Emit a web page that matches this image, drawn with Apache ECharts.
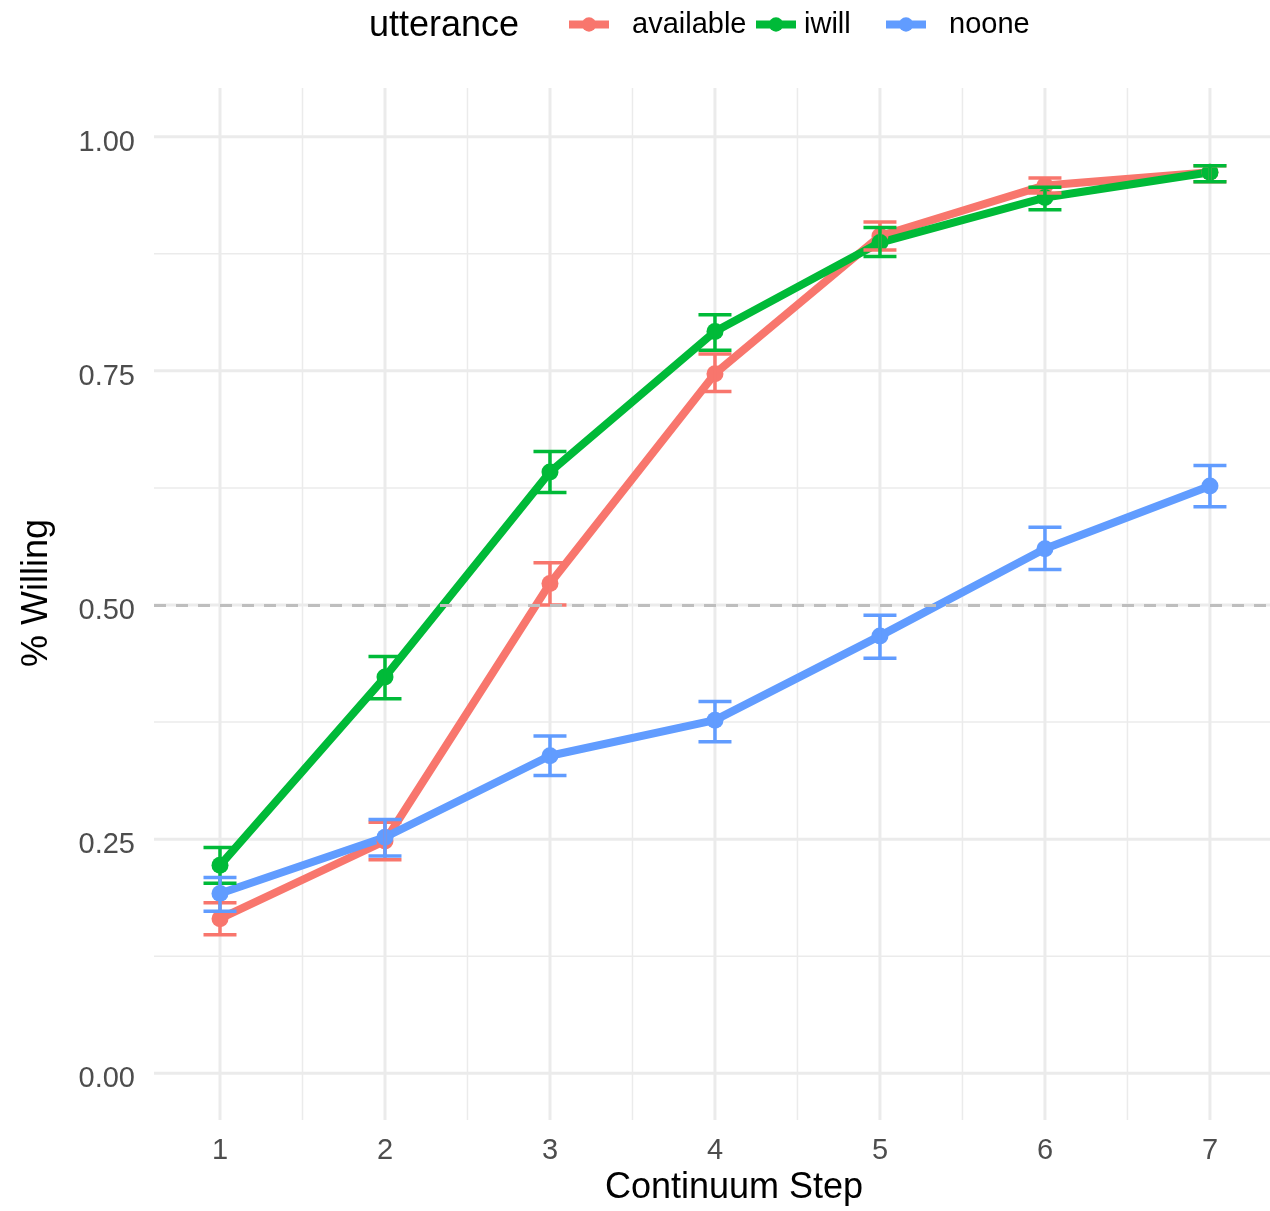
<!DOCTYPE html>
<html>
<head>
<meta charset="utf-8">
<script src="https://cdn.jsdelivr.net/npm/echarts@6/dist/echarts.min.js"></script>
<style>
html,body{margin:0;padding:0;background:#fff;overflow:hidden;}
#chart{width:1270px;height:1211px;}
</style>
</head>
<body>
<div id="chart"></div>
<script>
const steps = [1, 2, 3, 4, 5, 6, 7];
const available   = [0.165, 0.248, 0.523, 0.747, 0.894, 0.948, 0.962];
const availableLo = [0.148, 0.228, 0.500, 0.728, 0.879, 0.940, 0.952];
const availableHi = [0.182, 0.268, 0.545, 0.768, 0.909, 0.956, 0.969];
const iwill   = [0.222, 0.423, 0.642, 0.792, 0.887, 0.935, 0.962];
const iwillLo = [0.203, 0.400, 0.620, 0.772, 0.872, 0.922, 0.952];
const iwillHi = [0.241, 0.445, 0.664, 0.810, 0.903, 0.946, 0.969];
const noone   = [0.192, 0.252, 0.339, 0.377, 0.467, 0.560, 0.627];
const nooneLo = [0.173, 0.232, 0.318, 0.354, 0.443, 0.538, 0.605];
const nooneHi = [0.209, 0.271, 0.360, 0.397, 0.489, 0.583, 0.649];
const xTicks = [1, 2, 3, 4, 5, 6, 7];
const xMinor = [1.5, 2.5, 3.5, 4.5, 5.5, 6.5];
const yTicks = [0, 0.25, 0.5, 0.75, 1];
const yMinor = [0.125, 0.375, 0.625, 0.875];
const refLine = 0.5;

const X_MIN = 0.6, X_MAX = 7.364, Y_MIN = -0.05, Y_MAX = 1.052;
const FONT = 'Liberation Sans, Arial, sans-serif';
const colors = {available: '#F8766D', iwill: '#00BA38', noone: '#619CFF'};

function gridSeries(values, vertical, width) {
  return {
    type: 'custom', silent: true, z: 0,
    data: values.map(v => vertical ? [v, 0] : [0, v]),
    renderItem: function (params, api) {
      let p1, p2;
      if (vertical) {
        const v = api.value(0);
        p1 = api.coord([v, Y_MIN]); p2 = api.coord([v, Y_MAX]);
      } else {
        const v = api.value(1);
        p1 = api.coord([X_MIN, v]); p2 = api.coord([X_MAX, v]);
      }
      return {type: 'line', shape: {x1: p1[0], y1: p1[1], x2: p2[0], y2: p2[1]},
              style: {stroke: '#EBEBEB', lineWidth: width}};
    }
  };
}

function lineSeries(name, vals) {
  return {
    name: name, type: 'line', z: 3,
    data: steps.map((s, i) => [s, vals[i]]),
    symbol: 'circle', symbolSize: 17, showSymbol: true,
    lineStyle: {width: 8, color: colors[name]},
    itemStyle: {color: colors[name]},
    emphasis: {disabled: true}, animation: false
  };
}

function errSeries(name, lo, hi) {
  return {
    name: name, type: 'custom', z: 4, silent: true,
    data: steps.map((s, i) => [s, lo[i], hi[i]]),
    encode: {x: 0, y: [1, 2]},
    renderItem: function (params, api) {
      const x = api.value(0), l = api.value(1), h = api.value(2);
      const pl = api.coord([x, l]), ph = api.coord([x, h]);
      const a = api.coord([x - 0.1, l]), b = api.coord([x + 0.1, l]);
      const hw = (b[0] - a[0]) / 2;
      const st = {stroke: colors[name], lineWidth: 3.5};
      return {type: 'group', children: [
        {type: 'line', shape: {x1: pl[0], y1: pl[1], x2: ph[0], y2: ph[1]}, style: st},
        {type: 'line', shape: {x1: pl[0] - hw, y1: pl[1], x2: pl[0] + hw, y2: pl[1]}, style: st},
        {type: 'line', shape: {x1: ph[0] - hw, y1: ph[1], x2: ph[0] + hw, y2: ph[1]}, style: st}
      ]};
    }
  };
}

function legendFor(name, left, gap) {
  return {
    data: [name], left: left, top: 10, padding: 0, itemWidth: 40, itemHeight: 18,
    selectedMode: false,
    lineStyle: {width: 8},
    textStyle: {fontSize: 29, fontFamily: FONT, color: '#000', padding: [0, 0, 0, gap]}
  };
}

const chart = echarts.init(document.getElementById('chart'), null, {renderer: 'canvas', width: 1270, height: 1211});
chart.setOption({
  animation: false,
  backgroundColor: '#fff',
  title: {text: 'utterance', left: 369, top: 8, padding: 0,
          textStyle: {fontSize: 36, fontWeight: 'normal', fontFamily: FONT, color: '#000'}},
  legend: [legendFor('available', 565, 18), legendFor('iwill', 752, 3), legendFor('noone', 882, 18)],
  grid: {left: 154, right: 0, top: 88, bottom: 86, containLabel: false},
  xAxis: {
    type: 'value', min: X_MIN, max: X_MAX,
    name: 'Continuum Step', nameLocation: 'middle', nameGap: 48,
    nameTextStyle: {fontSize: 36, fontFamily: FONT, color: '#000', padding: [0, 0, 0, 44]},
    axisLine: {show: false}, axisTick: {show: false}, splitLine: {show: false},
    axisLabel: {customValues: xTicks, fontSize: 29, fontFamily: FONT, color: '#4D4D4D', margin: 16}
  },
  yAxis: {
    type: 'value', min: Y_MIN, max: Y_MAX,
    name: '% Willing', nameLocation: 'middle', nameGap: 99, nameRotate: 90,
    nameTextStyle: {fontSize: 36, fontFamily: FONT, color: '#000', padding: [0, 0, 0, 22]},
    axisLine: {show: false}, axisTick: {show: false}, splitLine: {show: false},
    axisLabel: {customValues: yTicks, fontSize: 29, fontFamily: FONT, color: '#4D4D4D', margin: 19,
                verticalAlign: 'top', lineHeight: 12, formatter: v => v.toFixed(2)}
  },
  series: [
    gridSeries(xMinor, true, 1.5),
    gridSeries(yMinor, false, 1.5),
    gridSeries(xTicks, true, 3),
    gridSeries(yTicks, false, 3),
    {
      type: 'line', data: [], silent: true, z: 1,
      markLine: {silent: true, symbol: 'none', label: {show: false}, animation: false,
                 lineStyle: {color: '#BEBEBE', width: 3, type: [12, 10]},
                 data: [{yAxis: refLine}]}
    },
    lineSeries('available', available),
    errSeries('available', availableLo, availableHi),
    lineSeries('iwill', iwill),
    errSeries('iwill', iwillLo, iwillHi),
    lineSeries('noone', noone),
    errSeries('noone', nooneLo, nooneHi)
  ]
});
</script>
</body>
</html>
